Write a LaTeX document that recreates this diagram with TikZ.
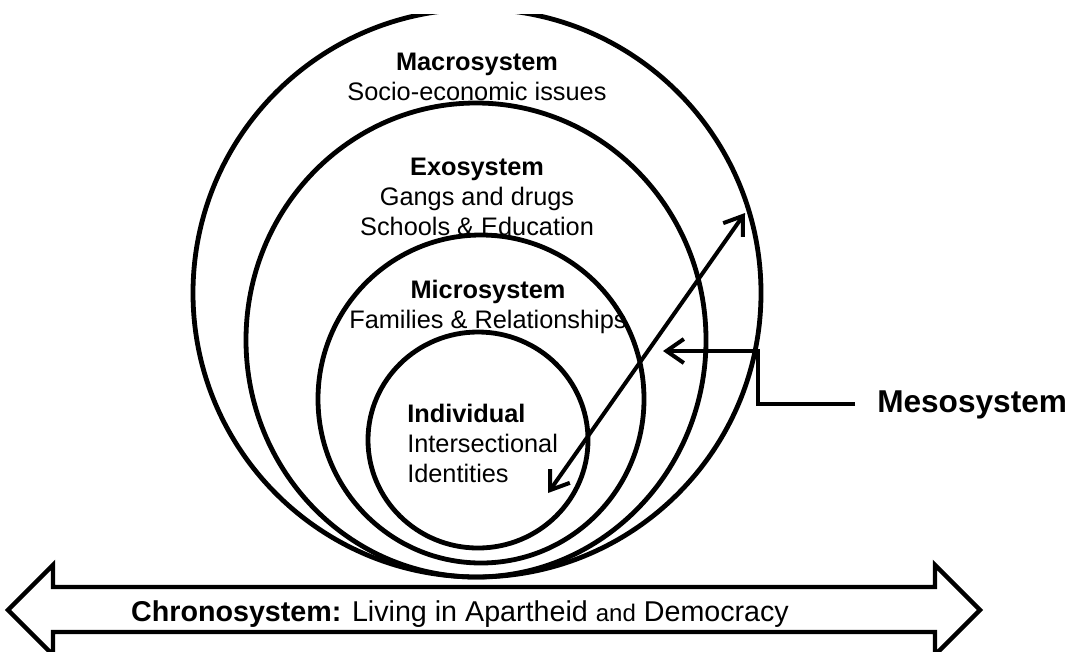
\documentclass[tikz,border=0pt]{standalone}
\usepackage{fontspec}
\setmainfont{Liberation Sans}
\usetikzlibrary{arrows.meta, positioning}

\begin{document}
\begin{tikzpicture}[x=0.75pt,y=-0.75pt,
    ring/.style={line width=3.6pt},
    systext/.style={font=\fontsize{19}{22.5}\selectfont, inner sep=0pt, align=center, anchor=base},
    barb/.style={line width=3pt, arrows={-Straight Barb[length=13pt,width=18pt]}},
    bigarrow/.style={line width=3.3pt, line join=miter}]
  \useasboundingbox (0,0) rectangle (1069,651);
  \begin{scope}
    \clip (0,14) rectangle (1069,651);
    \draw[ring] (477,293) ellipse (284 and 284);
  \end{scope}
  \draw[ring] (476,340) ellipse (230 and 237);
  \draw[ring] (481,399) ellipse (163 and 164);
  \draw[ring] (478,440) ellipse (110 and 108);

  % base anchor sits on the last line
  \node[systext] (macro) at (477,100) {\textbf{Macrosystem}\\Socio-economic issues};
  \node[systext] (exo) at (477,235) {\textbf{Exosystem}\\Gangs and drugs\\Schools \& Education};
  \node[systext] (micro) at (488,328) {\textbf{Microsystem}\\Families \& Relationships};
  \node[systext, anchor=base west, align=left] (indiv) at (407,482) {\textbf{Individual}\\Intersectional\\Identities};

  % mesosystem
  \node[font=\fontsize{23.7}{28}\selectfont\bfseries, inner xsep=16.5pt, inner ysep=0pt, anchor=base west] (meso) at (855,412) {Mesosystem};
  \coordinate (mesobend) at (758,351);
  \coordinate (mesotip) at (663,351);
  \draw[barb] (meso.west) -| (mesobend) -- (mesotip);
  \coordinate (inner) at (548,493);
  \coordinate (outer) at (745,213);
  \draw[barb, arrows={Straight Barb[length=13pt,width=18pt]-Straight Barb[length=13pt,width=18pt]}] (inner) -- (outer);

  % chronosystem
  \draw[bigarrow] (8,610) -- (53,565) -- (53,587) -- (935,587) -- (935,565) -- (980,610)
    -- (935,655) -- (935,632) -- (53,632) -- (53,655) -- cycle;
  \node[systext, font=\fontsize{21.5}{25}\selectfont] (chrono) at (460,621) {\textbf{Chronosystem:} Living in Apartheid {\fontsize{18}{22}\selectfont and} Democracy};
\end{tikzpicture}
\end{document}
